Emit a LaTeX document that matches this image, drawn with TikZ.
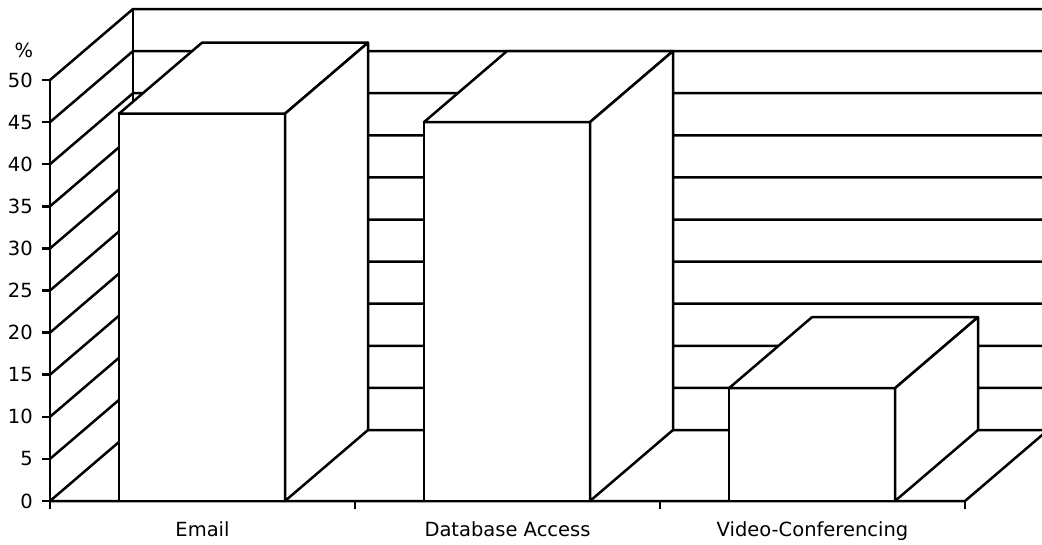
\documentclass[tikz,border=0pt]{standalone}
\usepackage{fontspec}
\setsansfont{DejaVu Sans}
\usetikzlibrary{calc}

\begin{document}
\begin{tikzpicture}[x=1pt,y=-1pt,line width=2.5pt,font=\sffamily\fontsize{19.5}{22}\selectfont,
		pct step/.initial=8.42,bar wd/.initial=166,
		face/.style={draw,fill=white,line join=round}]
		\useasboundingbox (0,0) rectangle (1042,544);
		\clip (0,0) rectangle (1042,544);
		\coordinate (O) at (50,501);
		\coordinate (D) at (83,-71);
		% side wall and back wall, one line every 5 percent
		\foreach \X [count=\Y] in {0,5,...,50}
		{\coordinate (L-\Y) at ($(O)+(0,{-\pgfkeysvalueof{/tikz/pct step}*\X})$);
			\draw (L-\Y) -- ++(D) coordinate (R-\Y) -- ++(950,0);
			\draw (L-\Y) -- ++(-8,0);
			\node[left,inner sep=0pt] (N-\Y) at ($(L-\Y)+(-16,0)$) {\X};}
		\draw (L-1) -- (L-11) (R-1) -- (R-11);
		\node (pc) at ($(L-11)+(-26,-30)$) {\%};
		% floor and category ticks
		\draw (L-1) -- ++(915,0) coordinate (E) -- ++(D);
		\foreach \i in {0,...,3}
		\draw ($(O)+(305*\i,0)$) -- ++(0,8);
		% bars
		\foreach \X/\V [count=\Y] in {Email/46,Database Access/45,Video-Conferencing/13.4}
		{\coordinate (b-\Y) at ($(O)+({305*(\Y-1)+69},0)$);
			\coordinate (t-\Y) at ($(b-\Y)+(0,{-\pgfkeysvalueof{/tikz/pct step}*\V})$);
			\coordinate (s-\Y) at ($(t-\Y)+(\pgfkeysvalueof{/tikz/bar wd},0)$);
			\coordinate (r-\Y) at ($(b-\Y)+(\pgfkeysvalueof{/tikz/bar wd},0)$);
			\draw[face] (b-\Y) rectangle (s-\Y);
			\draw[face] (t-\Y) -- ++(D) -- ++(\pgfkeysvalueof{/tikz/bar wd},0) -- (s-\Y) -- cycle;
			\draw[face] (s-\Y) -- ++(D) -- ($(r-\Y)+(D)$) -- (r-\Y) -- cycle;
			\node[anchor=base] (c-\Y) at ($(O)+({305*\Y-152.5},35)$) {\X};}
\end{tikzpicture}
\end{document}
